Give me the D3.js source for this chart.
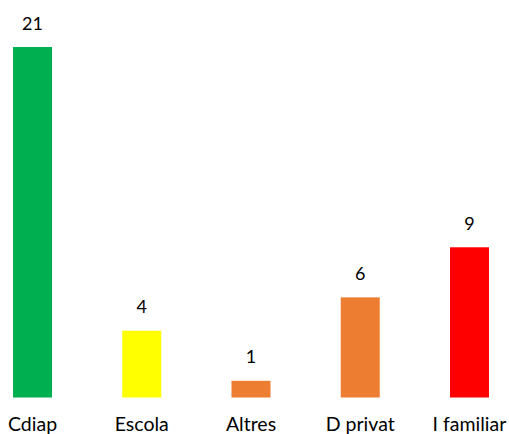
<!DOCTYPE html>
<html><head><meta charset="utf-8">
<script src="https://cdn.jsdelivr.net/npm/d3@7"></script>
<style>html,body{margin:0;padding:0;background:#fff;}</style>
</head><body>
<svg id="chart" width="509" height="434"></svg>
<script>
const categories = ["Cdiap", "Escola", "Altres", "D privat", "I familiar"];
const values = [21, 4, 1, 6, 9];
const colors = ["#00b050", "#ffff00", "#ed7d31", "#ed7d31", "#ff0000"];

const svg = d3.select("#chart");
const font = "Lato, 'Open Sans', sans-serif";

const x = d3.scaleBand().domain(categories).range([-22.1, 524.1])
  .paddingInner(0.643).paddingOuter(0.3215);
const y = d3.scaleLinear().domain([0, 21]).range([397.5, 47]);

svg.selectAll("rect.bar").data(categories).join("rect")
  .attr("class", "bar")
  .attr("x", d => x(d))
  .attr("width", x.bandwidth())
  .attr("y", (d, i) => y(values[i]))
  .attr("height", (d, i) => y(0) - y(values[i]))
  .attr("fill", (d, i) => colors[i]);

svg.selectAll("text.val").data(categories).join("text")
  .attr("class", "val")
  .attr("x", d => x(d) + x.bandwidth() / 2)
  .attr("y", (d, i) => y(values[i]) - 17.5)
  .attr("text-anchor", "middle")
  .attr("font-family", font)
  .attr("font-size", 18)
  .attr("fill", "#000")
  .text((d, i) => values[i]);

const xAxis = d3.axisBottom(x).tickSize(0).tickPadding(0);
const g = svg.append("g").attr("transform", "translate(0,431)").call(xAxis);
g.select(".domain").remove();
g.selectAll("text").attr("font-family", font).attr("font-size", 19.5)
  .attr("fill", "#000").attr("dy", "0");
</script>
</body></html>
